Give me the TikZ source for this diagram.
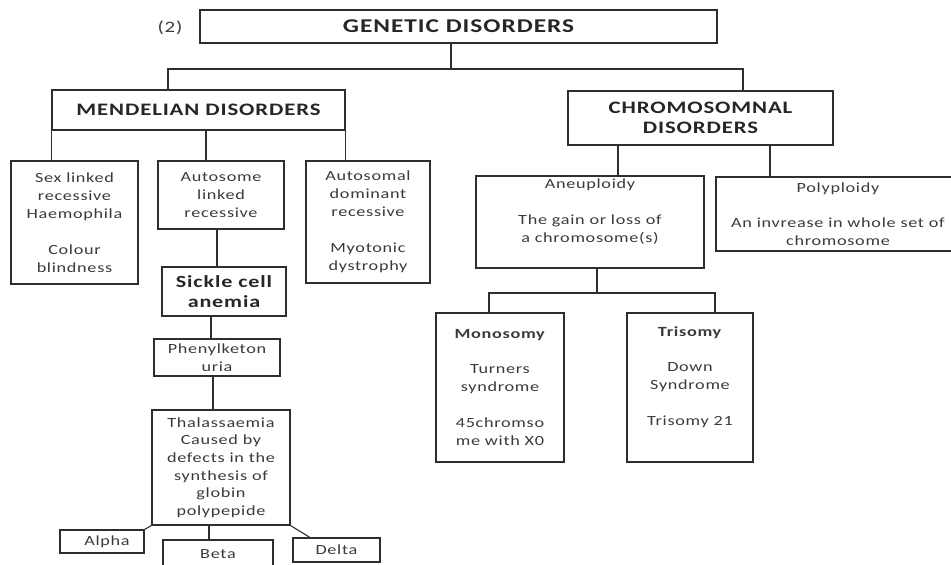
\documentclass[tikz,border=0pt]{standalone}
\usepackage{fontspec}
\setmainfont[FakeStretch=1.3,LetterSpace=5]{Carlito}
\definecolor{ink}{HTML}{3A3A3A}
\definecolor{dark}{HTML}{262626}
\definecolor{edge}{HTML}{2E2E2E}
\tikzset{
  box/.style={draw=edge, line width=1.1pt, inner sep=0pt, align=center, text=ink,
    font=\fontsize{14}{18}\selectfont},
  ttl/.style={text=dark, font=\bfseries\fontsize{17.5}{20}\selectfont},
  conn/.style={draw=edge, line width=1.1pt},
}
\begin{document}
\begin{tikzpicture}[x=1pt,y=-1pt]
\useasboundingbox (0,0) rectangle (951,565);
% top level
\node[text=ink, font=\fontsize{16}{18}\selectfont] (lab) at (170,28) {(2)};
\node[box, ttl, font=\bfseries\fontsize{19.5}{22}\selectfont, minimum width=517pt, minimum height=33pt] (gen) at (458.5,26.5) {GENETIC DISORDERS};
\node[box, ttl, minimum width=293pt, minimum height=40pt] (mend) at (198.5,110) {MENDELIAN DISORDERS};
\node[box, ttl, minimum width=265pt, minimum height=54pt] (chrom) at (700.5,118) {CHROMOSOMNAL\\DISORDERS};
% mendelian children
\node[box, minimum width=127pt, minimum height=123pt] (sex) at (74.5,222.5)
  {Sex linked\\recessive\\Haemophila\\[18pt]Colour\\blindness};
\node[box, minimum width=126pt, minimum height=68pt] (auto) at (221,195)
  {Autosome\\linked\\recessive};
\node[box, minimum width=124pt, minimum height=122pt] (dom) at (368,222)
  {Autosomal\\dominant\\recessive\\[18pt]Myotonic\\dystrophy};
\node[box, ttl, font=\bfseries\fontsize{17}{20}\selectfont, minimum width=124pt, minimum height=49pt] (sick) at (224,291.5)
  {Sickle cell\\anemia};
\node[box, minimum width=126pt, minimum height=37pt] (phen) at (217,357.5)
  {Phenylketon\\uria};
\node[box, font=\fontsize{14}{17.6}\selectfont, minimum width=138pt, minimum height=115pt] (thal) at (221,467.5)
  {Thalassaemia\\Caused by\\defects in the\\synthesis of\\globin\\polypepide};
\node[box, minimum width=84pt, minimum height=23pt] (alpha) at (102,541.5) {\hspace*{10pt}Alpha};
\node[box, minimum width=110pt, minimum height=28pt] (beta) at (218,554) {Beta};
\node[box, minimum width=87pt, minimum height=24pt] (delta) at (336.5,550) {Delta};
% chromosomal children
\node[box, minimum width=228pt, minimum height=92pt] (aneu) at (590,222)
  {Aneuploidy\\[18pt]The gain or loss of\\a chromosome(s)\\\strut};
\node[box, minimum width=244pt, minimum height=74pt] (poly) at (838,214)
  {Polyploidy\\[17pt]An invrease in whole set of\\chromosome};
\node[box, minimum width=128pt, minimum height=149pt] (mono) at (500,387.5)
  {\textbf{Monosomy}\\[17pt]Turners\\syndrome\\[18pt]45chromso\\me with X0};
\node[box, minimum width=126pt, minimum height=149pt] (tri) at (690,387.5)
  {\textbf{Trisomy}\\[17pt]Down\\Syndrome\\[18pt]Trisomy 21\\\strut};
% junction coordinates
\coordinate (j0) at (451,69);
\coordinate (jl) at (168,69);
\coordinate (jr) at (743,69);
\coordinate (xm) at (206,0);
\coordinate (xs) at (217,0);
\coordinate (xp) at (211,0);
\coordinate (xt) at (213,0);
\coordinate (xb) at (209,0);
\coordinate (xd) at (310,0);
\coordinate (xc1) at (618,0);
\coordinate (xc2) at (770,0);
\coordinate (ja) at (597,293);
\coordinate (xm1) at (489,0);
\coordinate (xt1) at (715,0);
% connectors
\draw[conn] (gen.south -| j0) -- (j0);
\draw[conn] (mend.north -| jl) -- (jl) -- (jr) -- (chrom.north -| jr);
\draw[conn] (mend.south west) -- (mend.south west |- sex.north);
\draw[conn] (mend.south -| xm) -- (auto.north -| xm);
\draw[conn] (mend.south east) -- (mend.south east |- dom.north);
\draw[conn] (auto.south -| xs) -- (sick.north -| xs);
\draw[conn] (sick.south -| xp) -- (phen.north -| xp);
\draw[conn] (phen.south -| xt) -- (thal.north -| xt);
\draw[conn] (thal.south west) -- (alpha.north east);
\draw[conn] (thal.south -| xb) -- (beta.north -| xb);
\draw[conn] (thal.south east) -- (delta.north -| xd);
\draw[conn] (chrom.south -| xc1) -- (aneu.north -| xc1);
\draw[conn] (chrom.south -| xc2) -- (poly.north -| xc2);
\draw[conn] (aneu.south -| ja) -- (ja);
\draw[conn] (mono.north -| xm1) -- (xm1 |- ja) -- (xt1 |- ja) -- (tri.north -| xt1);
\end{tikzpicture}
\end{document}
